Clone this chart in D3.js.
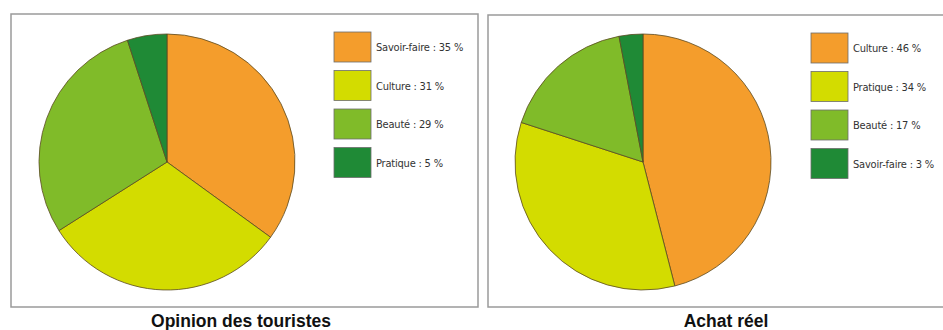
<!DOCTYPE html>
<html>
<head>
<meta charset="utf-8">
<script src="https://cdn.jsdelivr.net/npm/d3@7"></script>
<style>
  body { margin: 0; background: #fff; }
  svg { display: block; }
  .legend-label { font-family: "DejaVu Sans Condensed", "Liberation Sans Narrow", sans-serif; font-size: 11px; letter-spacing: -0.2px; fill: #333; }
  .panel-title { font-family: "Liberation Sans", Arial, sans-serif; font-size: 17.5px; font-weight: bold; fill: #111; }
</style>
</head>
<body>
<svg id="chart" width="943" height="330"></svg>
<script>
// Chart data
const touristCategories = ["Savoir-faire", "Culture", "Beauté", "Pratique"]
const touristValues = [35, 31, 29, 5]

const purchaseCategories = ["Culture", "Pratique", "Beauté", "Savoir-faire"]
const purchaseValues = [46, 34, 17, 3]

const panelTitles = ["Opinion des touristes", "Achat réel"]

// Colours by slice rank (largest first, as in the original)
const sliceColors = ["#f49d2c", "#d3dc00", "#80bb29", "#1f8a36"]

const svg = d3.select("#chart")

const drawPanel = (opts) => {
    const g = svg.append("g")

    // Panel frame
    g.append("rect")
        .attr("x", opts.box[0])
        .attr("y", opts.box[1])
        .attr("width", opts.box[2])
        .attr("height", opts.box[3])
        .attr("fill", "#fff")
        .attr("stroke", "#9a9a9a")
        .attr("stroke-width", 1.5)

    // Pie
    const data = opts.categories.map((c, i) => ({ name: c, value: opts.values[i], idx: i }))
    const pie = d3.pie().sort(null).value(d => d.value)
    const arc = d3.arc().innerRadius(0).outerRadius(opts.radius)

    g.append("g")
        .attr("transform", `translate(${opts.center[0]},${opts.center[1]})`)
        .selectAll("path")
        .data(pie(data))
        .enter()
        .append("path")
        .attr("d", arc)
        .attr("fill", d => sliceColors[d.data.idx])
        .attr("stroke", "#5b4a22")
        .attr("stroke-width", 0.8)
        .attr("stroke-linejoin", "round")

    // Legend
    const y = d3.scaleBand()
        .domain(opts.categories)
        .range([opts.legend[1], opts.legend[1] + 4 * 38.5])

    const items = g.append("g").selectAll("g")
        .data(data)
        .enter()
        .append("g")
        .attr("transform", d => `translate(${opts.legend[0]},${y(d.name)})`)

    items.append("rect")
        .attr("width", 37)
        .attr("height", 30)
        .attr("fill", d => sliceColors[d.idx])
        .attr("stroke", "#6d6d6d")
        .attr("stroke-width", 0.8)

    items.append("text")
        .attr("class", "legend-label")
        .attr("x", 42)
        .attr("y", 19)
        .text(d => `${d.name} : ${d.value} %`)

    // Title under the frame
    g.append("text")
        .attr("class", "panel-title")
        .attr("x", opts.titleX)
        .attr("y", 327)
        .attr("text-anchor", "middle")
        .text(opts.title)
}

drawPanel({
    box: [11, 14, 467, 293],
    center: [167, 162],
    radius: 128,
    categories: touristCategories,
    values: touristValues,
    legend: [334, 32],
    title: panelTitles[0],
    titleX: 241,
})

drawPanel({
    box: [488, 15, 470, 292],
    center: [643, 162],
    radius: 128,
    categories: purchaseCategories,
    values: purchaseValues,
    legend: [811, 33],
    title: panelTitles[1],
    titleX: 726,
})
</script>
</body>
</html>
